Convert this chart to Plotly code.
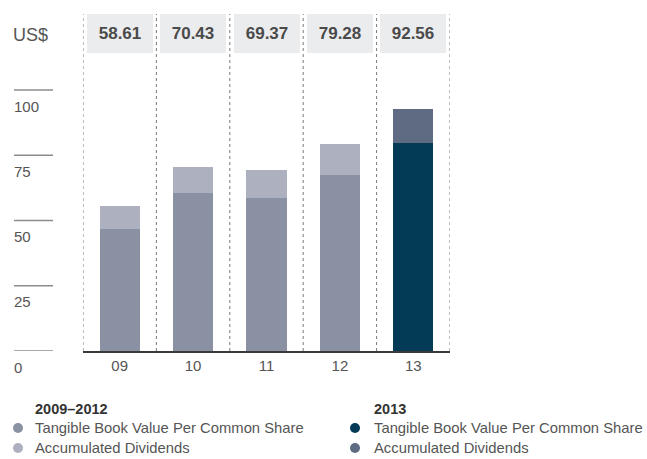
import plotly.graph_objects as go

# ---- data ----
years = ["09", "10", "11", "12", "13"]
tangible_book_value = [46.7, 60.5, 58.6, 67.4, 79.7]
accumulated_dividends = [8.8, 9.93, 10.77, 11.88, 12.86]
total_labels = ["58.61", "70.43", "69.37", "79.28", "92.56"]
y_ticks = [0, 25, 50, 75, 100]
unit_label = "US$"
legend_groups = ["2009–2012", "2013"]
legend_items = ["Tangible Book Value Per Common Share", "Accumulated Dividends"]

# ---- style ----
FONT = "Liberation Sans, Arial, Helvetica, sans-serif"
TXT = "#555555"
GREY_TBV = "#8a91a3"
GREY_DIV = "#adb0bf"
NAVY_TBV = "#033a56"
NAVY_DIV = "#5f6b83"
BOX_BG = "#ebecee"

W, H = 647, 459
L, R, T, B = 83, 197, 14, 108
PW, PH = W - L - R, H - T - B


def px(x):
    return (x - L) / PW


def py(y):
    return (H - B - y) / PH


tbv_colors = [GREY_TBV] * 4 + [NAVY_TBV]
div_colors = [GREY_DIV] * 4 + [NAVY_DIV]

fig = go.Figure()
fig.add_trace(go.Bar(x=years, y=tangible_book_value, marker=dict(color=tbv_colors, line=dict(width=0)),
                     width=0.55, name=legend_items[0], showlegend=False, hoverinfo="x+y"))
fig.add_trace(go.Bar(x=years, y=accumulated_dividends, marker=dict(color=div_colors, line=dict(width=0)),
                     width=0.55, name=legend_items[1], showlegend=False, hoverinfo="x+y"))

shapes = []
annotations = []

# dotted separators
for i in range(len(years) + 1):
    shapes.append(dict(type="line", xref="x", yref="paper", x0=i - 0.5, x1=i - 0.5, y0=0, y1=1,
                       line=dict(color="#7a7a7a", width=1, dash="dot"), layer="below"))

# y ticks (drawn as short lines on the left with labels beneath)
for v in y_ticks:
    shapes.append(dict(type="line", xref="paper", yref="y", x0=px(14), x1=px(53), y0=v, y1=v,
                       line=dict(color="#8c8c8c", width=1.5)))
    annotations.append(dict(xref="paper", yref="y", x=px(12), y=v, yshift=-16, xanchor="left",
                            yanchor="middle", text=str(v), showarrow=False,
                            font=dict(family=FONT, size=15, color=TXT)))

# unit label
annotations.append(dict(xref="paper", yref="paper", x=px(11), y=py(35), xanchor="left", yanchor="middle",
                        text=unit_label, showarrow=False, font=dict(family=FONT, size=18, color=TXT)))

# value boxes
for i, lab in enumerate(total_labels):
    annotations.append(dict(xref="x", yref="paper", x=i, y=1, xanchor="center", yanchor="top",
                            text="<b>%s</b>" % lab, showarrow=False, bgcolor=BOX_BG,
                            width=66, height=39, borderpad=0, borderwidth=0,
                            font=dict(family=FONT, size=17, color="#4a4a4a")))

# custom legend
cols = [(33, 18, 33, [GREY_TBV, GREY_DIV]), (372, 355, 372, [NAVY_TBV, NAVY_DIV])]
for grp, (hx, cx, tx, colors) in zip(legend_groups, cols):
    annotations.append(dict(xref="paper", yref="paper", x=px(hx), y=py(409), xanchor="left",
                            yanchor="middle", text="<b>%s</b>" % grp, showarrow=False,
                            font=dict(family=FONT, size=14.5, color="#333333")))
    for j, (item, c) in enumerate(zip(legend_items, colors)):
        yy = 428 + 20 * j
        shapes.append(dict(type="circle", xref="paper", yref="paper",
                           x0=px(cx - 5), x1=px(cx + 5), y0=py(yy + 5), y1=py(yy - 5),
                           fillcolor=c, line=dict(width=0)))
        annotations.append(dict(xref="paper", yref="paper", x=px(tx), y=py(yy), xanchor="left",
                                yanchor="middle", text=item, showarrow=False,
                                font=dict(family=FONT, size=14.8, color=TXT)))

fig.update_layout(
    width=W, height=H,
    margin=dict(l=L, r=R, t=T, b=B, pad=0),
    barmode="stack",
    bargap=0.45,
    plot_bgcolor="white", paper_bgcolor="white",
    font=dict(family=FONT, color=TXT),
    shapes=shapes, annotations=annotations,
    xaxis=dict(type="category", range=[-0.5, len(years) - 0.5], showline=True, linecolor="#3a3a3a",
               linewidth=1.5, ticks="", showgrid=False, zeroline=False,
               tickfont=dict(family=FONT, size=15, color=TXT)),
    yaxis=dict(range=[0, PH / 2.61], visible=False, showgrid=False, zeroline=False),
    showlegend=False,
)

fig.write_html("out.html", config={"displayModeBar": False},
               post_script="document.body.style.margin='0';")
